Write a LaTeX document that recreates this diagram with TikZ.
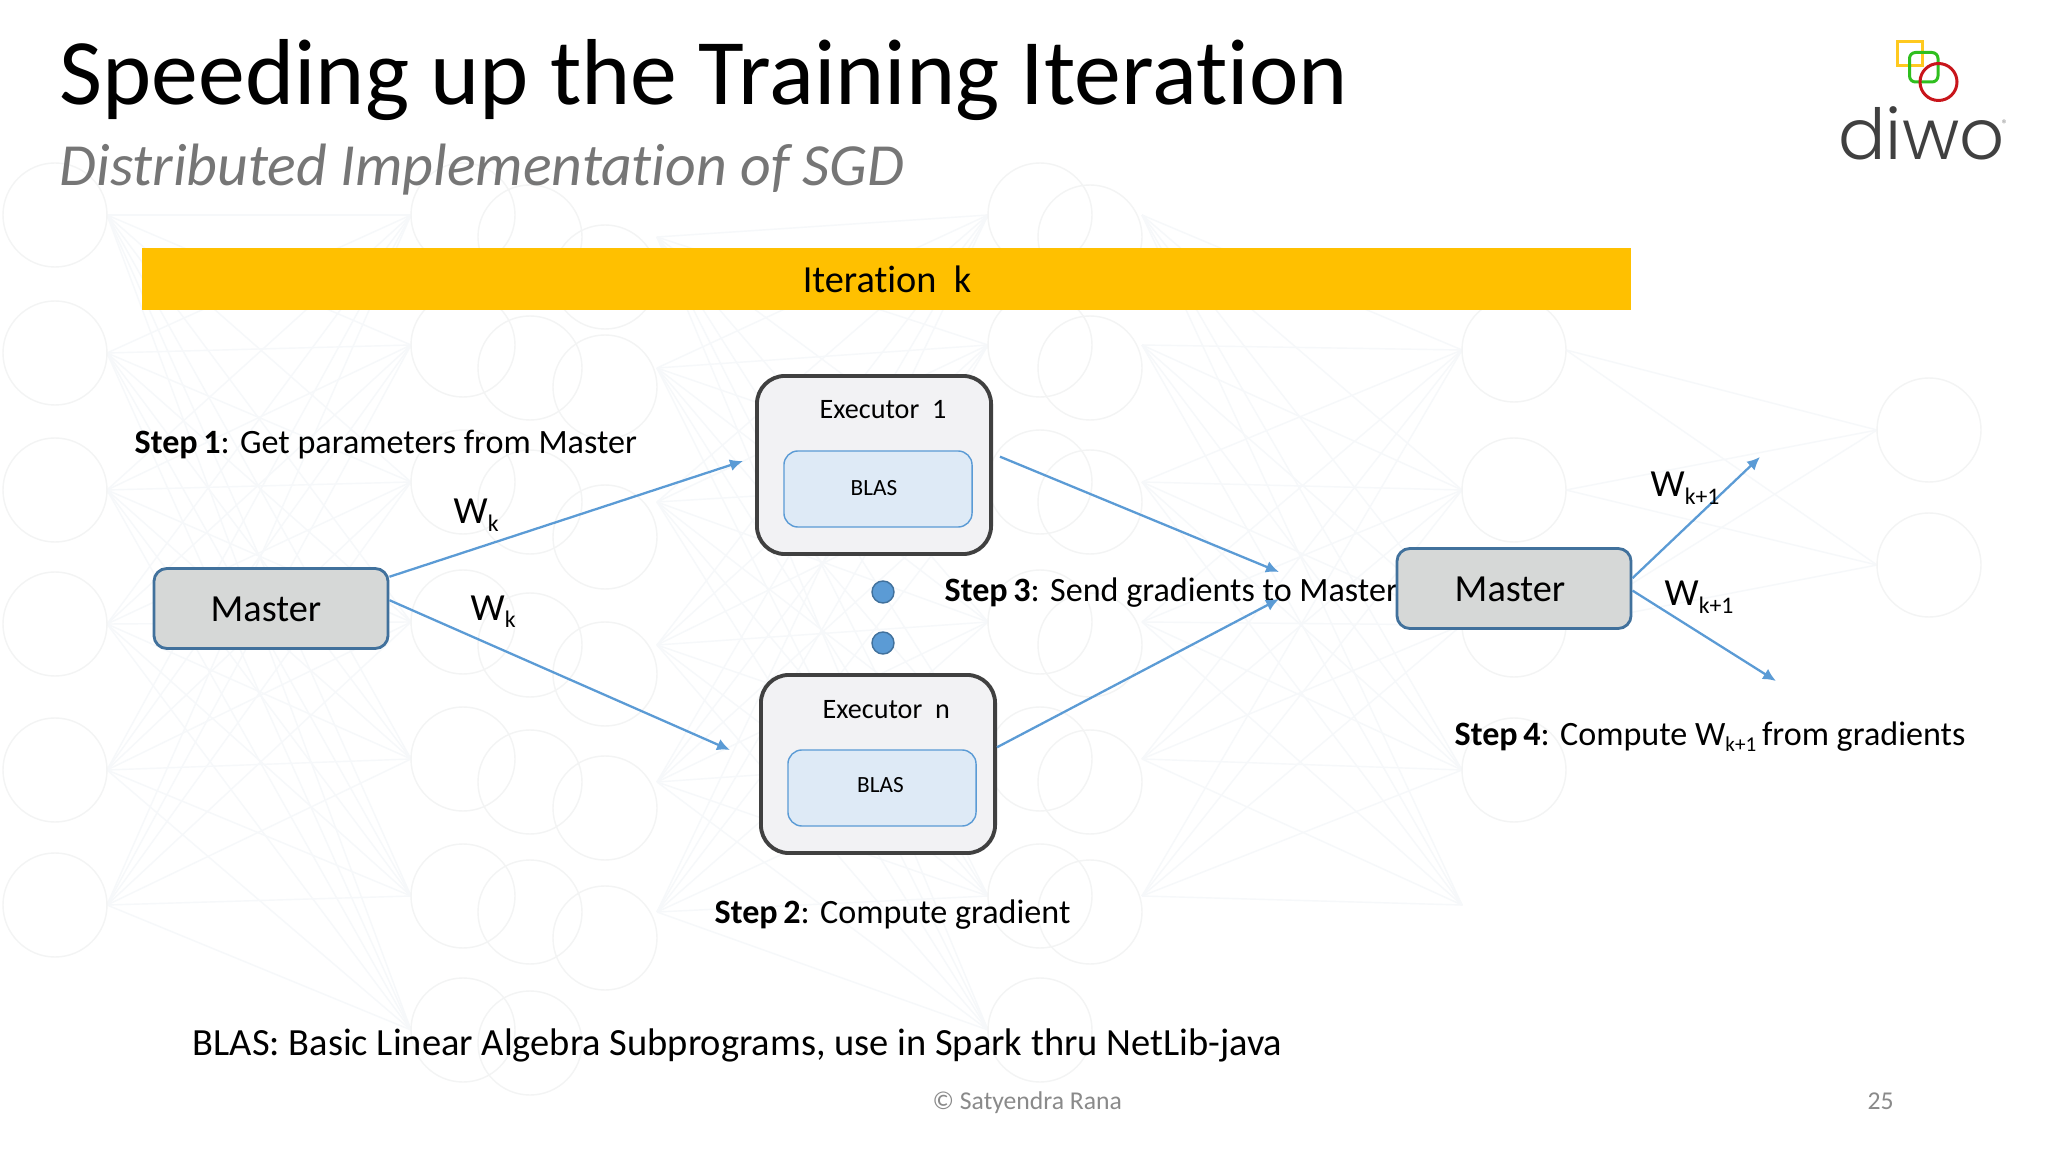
\documentclass[tikz,border=0pt]{standalone}
\usepackage{fontspec}
\setmainfont{Carlito}[Ligatures=NoCommon]
\newfontfamily\logofont{Poppins}[UprightFont=* Light]
\usetikzlibrary{arrows.meta}
\definecolor{barfill}{HTML}{FFC000}
\definecolor{linkblue}{HTML}{5B9BD5}
\definecolor{masterfill}{HTML}{D6D8D7}
\definecolor{masterline}{HTML}{41719C}
\definecolor{execfill}{HTML}{F2F2F4}
\definecolor{execline}{HTML}{404040}
\definecolor{blasfill}{HTML}{DEEAF6}
\definecolor{subgray}{HTML}{767676}
\definecolor{footgray}{HTML}{8A8A8A}
\definecolor{logored}{HTML}{C8151B}
\definecolor{logogreen}{HTML}{2FBF1E}
\definecolor{logoyellow}{HTML}{FFC91F}
\definecolor{netcircle}{HTML}{F3F4F4}
\definecolor{netline}{HTML}{F6F8FA}
\newcommand{\subidx}[1]{\raisebox{-0.4ex}{\scalebox{0.62}{#1}}}
\tikzset{
  txt/.style={anchor=base west,inner sep=0pt,font=\fontsize{9.7}{12}\selectfont},
  bigtxt/.style={inner sep=0pt,font=\fontsize{10.9}{13}\selectfont},
  master/.style={draw=masterline,line width=0.8pt,fill=masterfill,rounded corners=0.13cm,minimum width=2.34cm,minimum height=0.8cm,inner sep=0pt},
  executor/.style={draw=execline,line width=1.1pt,fill=execfill,rounded corners=0.28cm,minimum width=2.34cm,minimum height=1.78cm,inner sep=0pt},
  blas/.style={draw=linkblue,line width=0.4pt,fill=blasfill,rounded corners=0.14cm,minimum width=1.88cm,minimum height=0.76cm,inner sep=0pt},
  dot/.style={circle,draw=masterline,line width=0.4pt,fill=linkblue,minimum size=0.22cm,inner sep=0pt},
  link/.style={draw=linkblue,line width=0.65pt,-{Latex[length=0.13cm,width=0.12cm]}}
}
\begin{document}
\begin{tikzpicture}[x=0.01cm,y=-0.01cm]
\useasboundingbox (0,0) rectangle (2048,1152);
\fill[white] (0,0) rectangle (2048,1152);

\begin{scope}[line width=0.4pt]
    \foreach \ya in {215,353,490,624,770,905}
        \foreach \yb in {215,345,482,622,759,896,1030}
            \draw[netline] (107,\ya) -- (411,\yb);
    \foreach \ya in {237,368,502,645,782,912}
        \foreach \yb in {215,345,482,622,759,896,1030}
            \draw[netline] (657,\ya) -- (988,\yb);
    \foreach \ya in {215,345,482,622,759,896}
        \foreach \yb in {350,490,625,770,905}
            \draw[netline] (1142,\ya) -- (1462,\yb);
    \foreach \ya in {350,490,625}
        \foreach \yb in {430,565}
            \draw[netline] (1566,\ya) -- (1877,\yb);
    \foreach \y in {215,353,490,624,770,905}
        \draw[netcircle] (55,\y) circle (52);
    \foreach \y in {215,345,482,622,759,896,1030}
        \draw[netcircle] (463,\y) circle (52);
    \foreach \y in {237,368,502,645,782,912,1043}
        \draw[netcircle] (530,\y) circle (52);
    \foreach \y in {277,387,537,674,808,938}
        \draw[netcircle] (605,\y) circle (52);
    \foreach \y in {215,345,482,622,759,896,1030}
        \draw[netcircle] (1040,\y) circle (52);
    \foreach \y in {237,368,502,645,782,912}
        \draw[netcircle] (1090,\y) circle (52);
    \foreach \y in {350,490,625,770}
        \draw[netcircle] (1514,\y) circle (52);
    \foreach \y in {430,565}
        \draw[netcircle] (1929,\y) circle (52);
\end{scope}

\node (title)[anchor=base west,inner sep=0pt,font=\fontsize{26.65}{32}\selectfont] at (59,105) {Speeding up the Training Iteration};
\node (subtitle)[anchor=base west,inner sep=0pt,text=subgray,font=\fontsize{17}{21}\selectfont\itshape] at (59,186) {Distributed Implementation of SGD};

\node (bar)[fill=barfill,minimum width=14.89cm,minimum height=0.62cm,inner sep=0pt] at (886.5,279) {};
\node (iter)[bigtxt,anchor=base] at (887,293) {Iteration\ \ k};

\node (step1)[txt] at (134,454) {\textbf{Step\,1}: Get parameters from Master};
\node (step2)[txt] at (714,923) {\textbf{Step\,2}: Compute gradient};
\node (step3)[txt] at (944,602) {\textbf{Step\,3}: Send gradients to Master};
\node (step4)[txt] at (1454,745) {\textbf{Step\,4}: Compute W\subidx{k+1}\,from gradients};

\node (masterA)[master] at (271,608.5) {};
\node (masterAtxt)[bigtxt,anchor=base] at (266,622) {Master};
\node (masterB)[master] at (1514,588.5) {};
\node (masterBtxt)[bigtxt,anchor=base] at (1510,602) {Master};

\node (exec1)[executor] at (874,465) {};
\node (execn)[executor] at (878,764) {};
\node (exec1txt)[anchor=base west,inner sep=0pt,font=\fontsize{8}{10}\selectfont] at (819,419) {Executor\ \ 1};
\node (execntxt)[anchor=base west,inner sep=0pt,font=\fontsize{8}{10}\selectfont] at (822,718.5) {Executor\ \ n};
\node (blas1)[blas] at (878,489) {};
\node (blasn)[blas] at (882,788) {};
\node (blas1txt)[anchor=base west,inner sep=0pt,font=\fontsize{6.6}{8}\selectfont] at (850,496) {BLAS};
\node (blasntxt)[anchor=base west,inner sep=0pt,font=\fontsize{6.6}{8}\selectfont] at (856.5,792) {BLAS};

\node (dotA)[dot] at (883,592) {};
\node (dotB)[dot] at (883,643) {};

\coordinate (endA) at (743,461);
\coordinate (endB) at (730,750);
\coordinate (endC) at (1279,572);
\coordinate (endD) at (1279,599);
\coordinate (endE) at (1760,457);
\coordinate (endF) at (1776,681);

\draw[link] (masterA.15) -- (endA);
\draw[link] (masterA.4) -- (endB);
\draw[link] ([xshift=0.07cm]exec1.4) -- (endC);
\draw[link] (execn.8) -- (endD);
\draw[link] (masterB.5) -- (endE);
\draw[link] (masterB.-1) -- (endF);

\node (wkA)[bigtxt,anchor=base west] at (453,524) {W\subidx{k}};
\node (wkB)[bigtxt,anchor=base west] at (470,620) {W\subidx{k}};
\node (wkC)[bigtxt,anchor=base west] at (1650,497) {W\subidx{k+1}};
\node (wkD)[bigtxt,anchor=base west] at (1664,606) {W\subidx{k+1}};

\node (blasnote)[anchor=base west,inner sep=0pt,font=\fontsize{10.94}{13}\selectfont] at (192,1055) {BLAS: Basic Linear Algebra Subprograms, use in Spark thru NetLib-java};
\node (copyright)[anchor=base west,inner sep=0pt,text=footgray,font=\fontsize{7.3}{9}\selectfont] at (932,1109) {© Satyendra Rana};
\node (pagenum)[anchor=base west,inner sep=0pt,text=footgray,font=\fontsize{7.3}{9}\selectfont] at (1867,1109) {25};

\draw[logoyellow,line width=0.85pt] (1897.5,41.5) rectangle (1922,66);
\draw[logogreen,line width=0.85pt,rounded corners=0.06cm] (1909.5,52.5) rectangle (1938,82);
\draw[logored,line width=0.85pt] (1938.5,82) circle (18.5);
\node (logo)[anchor=base,inner sep=0pt,text=execline,font=\logofont\fontsize{20}{24}\selectfont] at (1921.5,160) {diwo};
\node (logoreg)[inner sep=0pt,text=footgray,font=\fontsize{3.5}{4}\selectfont] at (2005,124) {®};
\end{tikzpicture}
\end{document}
